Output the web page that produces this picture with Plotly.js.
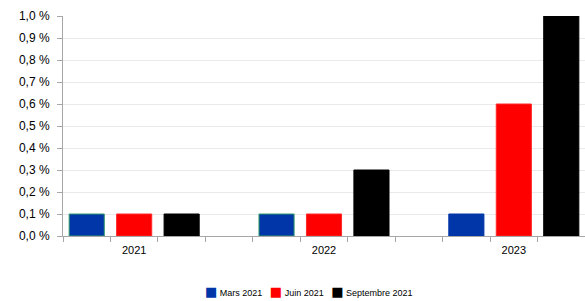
<!DOCTYPE html>
<html>
<head>
<meta charset="utf-8">
<script src="https://cdn.plot.ly/plotly-3.0.1.min.js"></script>
<style>html,body{margin:0;padding:0;background:#fff;}#chart{width:585px;height:301px;}</style>
</head>
<body>
<div id="chart"></div>
<script>
var years = ['2021', '2022', '2023'];
var seriesNames = ['Mars 2021', 'Juin 2021', 'Septembre 2021'];
var mars = [0.1, 0.1, 0.1];
var juin = [0.1, 0.1, 0.6];
var septembre = [0.1, 0.3, 1.0];
var yTicks = [0, 0.1, 0.2, 0.3, 0.4, 0.5, 0.6, 0.7, 0.8, 0.9, 1.0];

var values = [mars, juin, septembre];
var colors = ['#0036a8', '#ff0000', '#000000'];
var lineColors = [['#2f9a6a', '#2f9a6a', '#0036a8'], ['#ff2a2a', '#ff2a2a', '#ff2a2a'], ['#000000', '#000000', '#000000']];
var slotsPerGroup = years.length + 1;

var traces = values.map(function (vals, s) {
  return {
    type: 'bar',
    name: seriesNames[s],
    x: years.map(function (y, g) { return g * slotsPerGroup + s; }),
    y: vals.map(function (v) { return v / 100; }),
    width: 0.74,
    marker: { color: colors[s], line: { color: lineColors[s], width: 1 } },
    hoverinfo: 'none',
    showlegend: false
  };
});

var nSlots = years.length * slotsPerGroup - 1;
var tickEdges = [];
for (var i = 0; i <= nSlots; i++) tickEdges.push(i - 0.5);
var labelPos = years.map(function (y, g) { return g * slotsPerGroup + 1; });

traces.push({ type: 'scatter', x: labelPos, y: [0, 0, 0], xaxis: 'x2', mode: 'none', showlegend: false, hoverinfo: 'none' });

var fam = 'Liberation Sans, Arial, sans-serif';

var legendText = seriesNames.map(function (n, s) {
  return '<span style="color:' + colors[s] + ';font-family:DejaVu Sans;font-size:13px">\u25A0</span>\u00a0' + n;
}).join('\u00a0\u00a0\u00a0');

var layout = {
  width: 585, height: 301,
  margin: { l: 63, r: 0, t: 16, b: 65, autoexpand: false },
  paper_bgcolor: '#fff', plot_bgcolor: '#fff',
  showlegend: false,
  font: { family: fam, color: '#000' },
  xaxis: {
    range: [-0.5, nSlots - 0.5],
    tickvals: tickEdges, ticktext: tickEdges.map(function () { return ''; }),
    ticks: 'outside', ticklen: 5, tickcolor: '#a6a6a6',
    showline: true, linecolor: '#a6a6a6', linewidth: 1,
    showgrid: false, zeroline: false, fixedrange: true
  },
  xaxis2: {
    overlaying: 'x', matches: 'x', side: 'bottom',
    tickvals: labelPos, ticktext: years,
    ticks: '', showline: false, showgrid: false, zeroline: false,
    tickfont: { family: fam, size: 11, color: '#000' },
    ticklabelstandoff: 6
  },
  yaxis: {
    range: [0, 0.01],
    tickvals: yTicks.map(function (v) { return v / 100; }),
    ticktext: yTicks.map(function (v) { return v.toFixed(1).replace('.', ',') + ' %'; }),
    tickfont: { family: fam, size: 12, color: '#000' },
    ticks: 'outside', ticklen: 5, tickcolor: '#a6a6a6',
    ticklabelstandoff: 5,
    showline: true, linecolor: '#a6a6a6', linewidth: 1,
    showgrid: true, gridcolor: '#e9e9e9', gridwidth: 1,
    zeroline: false, fixedrange: true
  },
  bargap: 0,
  barmode: 'overlay',
  annotations: [{
    xref: 'paper', yref: 'paper', x: 0.472, y: -0.29,
    xanchor: 'center', yanchor: 'bottom', showarrow: false, borderpad: 0,
    text: legendText, font: { family: fam, size: 9, color: '#000' }
  }]
};

Plotly.newPlot('chart', traces, layout, { displayModeBar: false, staticPlot: true });
</script>
</body>
</html>
